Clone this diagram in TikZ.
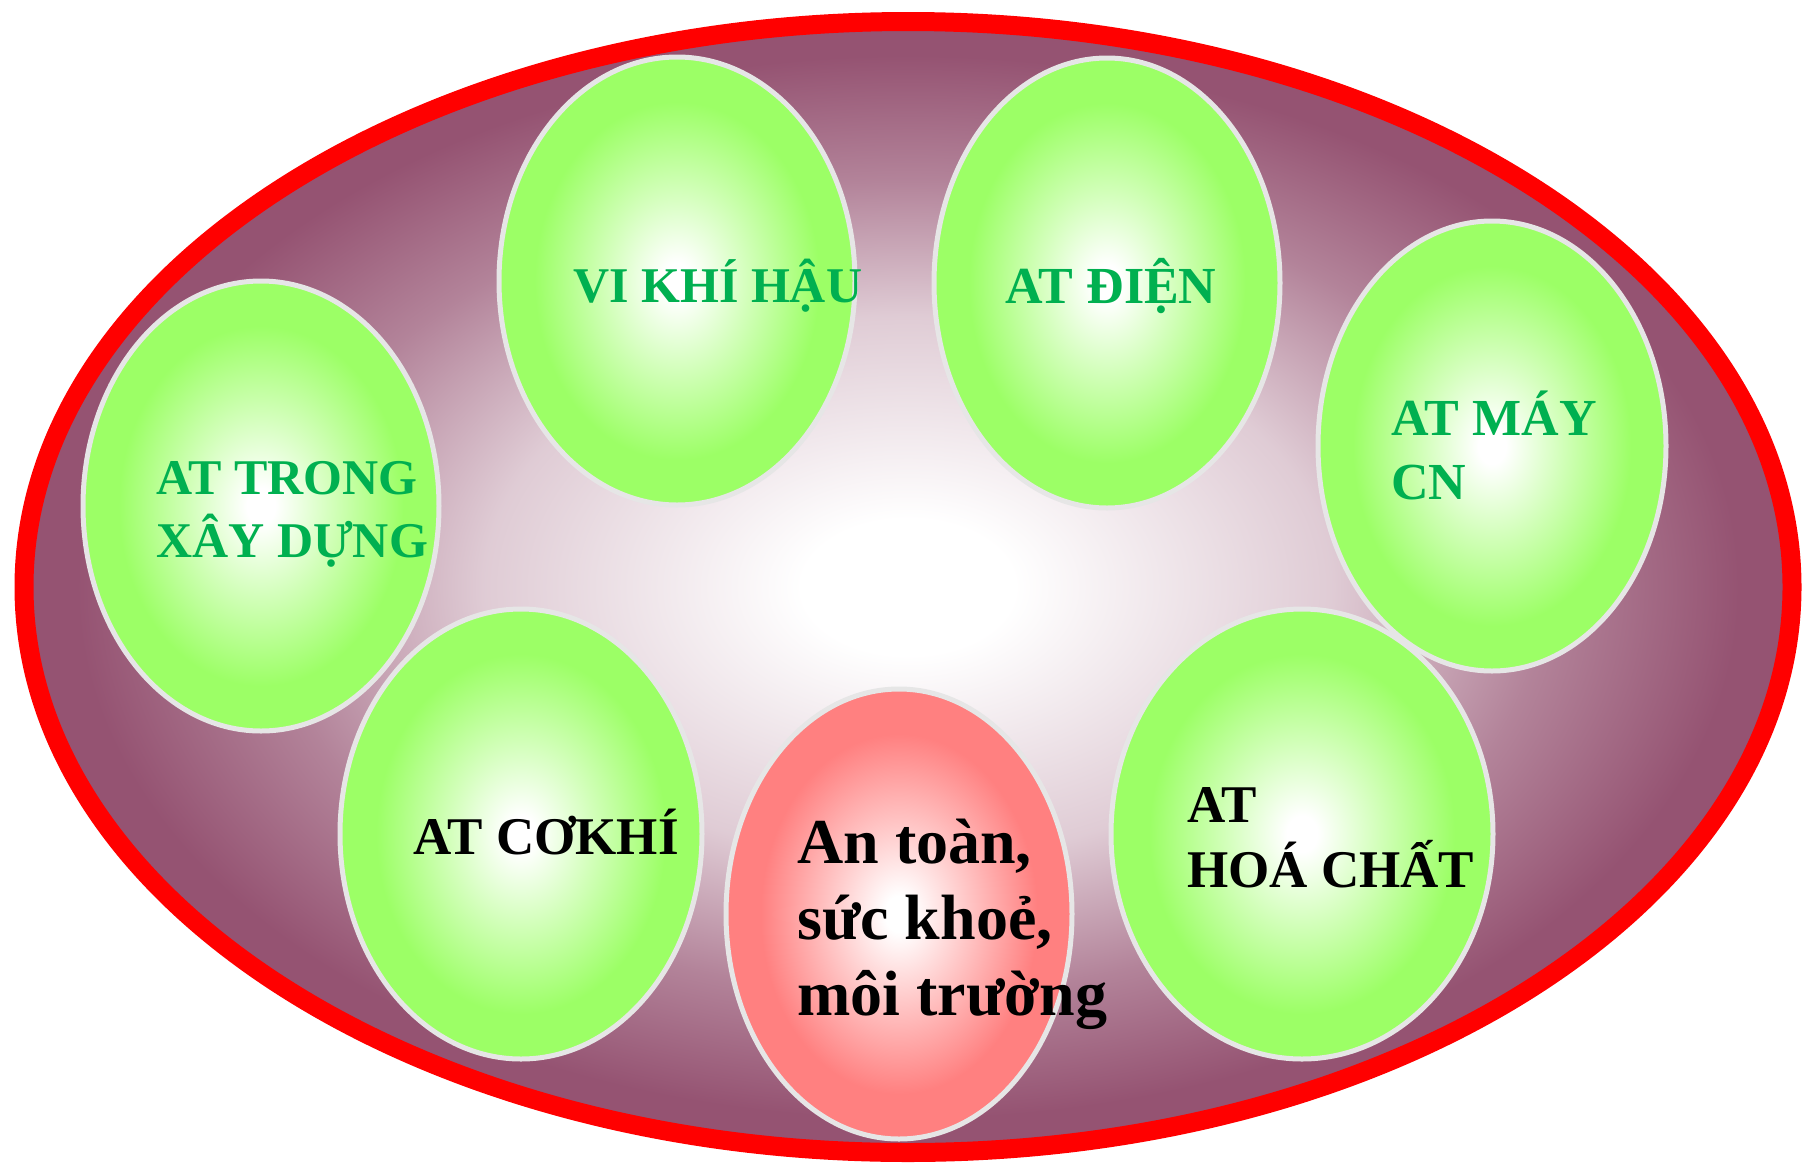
\documentclass[tikz,border=0pt]{standalone}
\usepackage{fontspec}
\setmainfont{Liberation Serif}
\usetikzlibrary{shapes.geometric}
\definecolor{purp}{HTML}{955372}
\definecolor{lgreen}{HTML}{9CFF66}
\definecolor{lred}{HTML}{FF8080}
\definecolor{tgreen}{HTML}{00B050}
\definecolor{rimgray}{HTML}{E6E6E6}
\colorlet{purpA}{purp!30}
\colorlet{purpB}{purp!72}
\colorlet{greenA}{lgreen!45}
\colorlet{redA}{lred!45}
\pgfdeclareradialshading{bigsh}{\pgfpoint{0bp}{0bp}}{color(0bp)=(white); color(3bp)=(white); color(12bp)=(purpA); color(18bp)=(purpB); color(23.5bp)=(purp); color(25bp)=(purp); color(50bp)=(purp)}
\pgfdeclareradialshading{greensh}{\pgfpoint{0bp}{0bp}}{color(0bp)=(white); color(2bp)=(white); color(10bp)=(greenA); color(20bp)=(lgreen); color(25bp)=(lgreen); color(50bp)=(lgreen)}
\pgfdeclareradialshading{redsh}{\pgfpoint{0bp}{0bp}}{color(0bp)=(white); color(2bp)=(white); color(10bp)=(redA); color(20bp)=(lred); color(25bp)=(lred); color(50bp)=(lred)}
\tikzset{
  blob/.style={ellipse, draw=rimgray, line width=5pt, shading=greensh, inner sep=0pt},
  redblob/.style={ellipse, draw=rimgray, line width=5pt, shading=redsh, inner sep=0pt},
  gtxt/.style={anchor=base west, align=left, inner sep=0pt, text=tgreen, font=\fontsize{52}{64}\selectfont\bfseries},
  btxt/.style={anchor=base west, align=left, inner sep=0pt, text=black, font=\fontsize{53}{65}\selectfont\bfseries},
  bigtxt/.style={anchor=base west, align=left, inner sep=0pt, text=black, font=\fontsize{64}{76}\selectfont\bfseries}
}
\begin{document}
\begin{tikzpicture}[x=1pt,y=-1pt]
\useasboundingbox (0,0) rectangle (1808,1168);
\node[ellipse, draw=red, line width=19pt, shading=bigsh, minimum width=1768pt, minimum height=1131pt, inner sep=0pt] (outer) at (908,587) {};
\node[blob, minimum width=356pt, minimum height=448pt] (vikhi) at (677,281) {};
\node[blob, minimum width=346pt, minimum height=450pt] (dien) at (1107,283) {};
\node[blob, minimum width=348pt, minimum height=450pt] (may) at (1492,446) {};
\node[blob, minimum width=356pt, minimum height=450pt] (xay) at (261,506) {};
\node[blob, minimum width=362pt, minimum height=450pt] (cokhi) at (521,834) {};
\node[blob, minimum width=382pt, minimum height=450pt] (hoa) at (1302,834) {};
\node[redblob, minimum width=346pt, minimum height=450pt] (antoan) at (899,914) {};
\node[gtxt, font=\fontsize{50}{64}\selectfont\bfseries] (t1) at (573,302) {VI KHÍ HẬU};
\node[gtxt] (t2) at (1005,303) {AT ĐIỆN};
\node[gtxt] (t3) at (1391,499) {AT MÁY\\CN};
\node[gtxt, font=\fontsize{50}{63}\selectfont\bfseries] (t4) at (156,557) {AT TRONG\\XÂY DỰNG};
\node[btxt] (t5) at (413,854) {AT CƠKHÍ};
\node[btxt] (t6) at (1187,887) {AT\\HOÁ CHẤT};
\node[bigtxt] (t7) at (797,1015) {An toàn,\\sức khoẻ,\\môi trường};
\end{tikzpicture}
\end{document}
